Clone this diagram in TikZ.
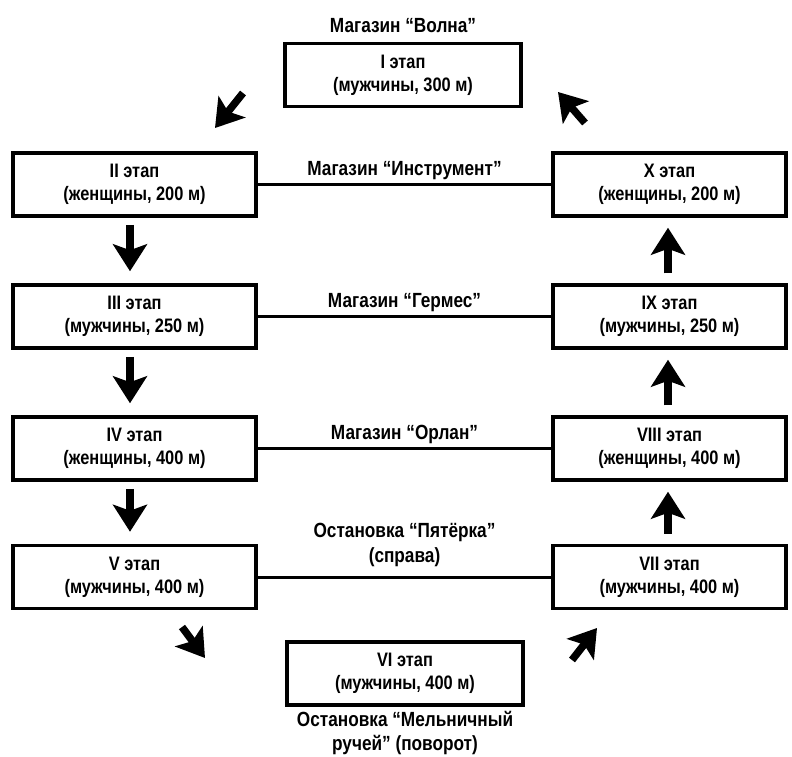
\documentclass[tikz,border=0pt]{standalone}
\usepackage{fontspec}
\setmainfont{Liberation Sans}[FakeStretch=0.84]
\usetikzlibrary{arrows.meta}
\usetikzlibrary{positioning}

\tikzset{
  etap/.style={draw, line width=3.5pt, minimum width=243pt, minimum height=63pt,
    align=center, inner sep=0pt, font=\fontsize{19.5}{23}\selectfont\bfseries},
  lbl/.style={align=center, inner sep=0pt, font=\fontsize{20.5}{24.5}\selectfont\bfseries},
  link/.style={line width=3pt},
  bigarrow/.style={line width=7.5pt, -{Stealth[length=27pt,width=34pt,inset=6pt]}}
}

\begin{document}
\begin{tikzpicture}[x=1pt,y=-1pt]
\useasboundingbox (0,0) rectangle (792,757);
\node[etap, minimum width=236pt] (s1) at (403,75) {I этап\\(мужчины, 300 м)};
\node[etap] (s2) at (134.5,184.5) {II этап\\(женщины, 200 м)};
\node[etap] (s3) at (134.5,316.5) {III этап\\(мужчины, 250 м)};
\node[etap] (s4) at (134.5,448.5) {IV этап\\(женщины, 400 м)};
\node[etap] (s5) at (134.5,577) {V этап\\(мужчины, 400 м)};
\node[etap, minimum width=236pt] (s6) at (405,673.5) {VI этап\\(мужчины, 400 м)};
\node[etap, minimum width=233pt] (s7) at (669.5,577) {VII этап\\(мужчины, 400 м)};
\node[etap, minimum width=233pt] (s8) at (669.5,448.5) {VIII этап\\(женщины, 400 м)};
\node[etap, minimum width=233pt] (s9) at (669.5,316.5) {IX этап\\(мужчины, 250 м)};
\node[etap, minimum width=233pt] (s10) at (669.5,184.5) {X этап\\(женщины, 200 м)};

\node[lbl, above=9pt of s1] (t1) {Магазин “Волна”};
\node[lbl, below=4pt of s6] (t6) {Остановка “Мельничный\\ручей” (поворот)};

\draw[link] (s2) -- (s10) node[lbl, midway, anchor=south, yshift=3pt] (m2) {Магазин “Инструмент”};
\draw[link] (s3) -- (s9) node[lbl, midway, anchor=south, yshift=3pt] (m3) {Магазин “Гермес”};
\draw[link] (s4) -- (s8) node[lbl, midway, anchor=south, yshift=3pt] (m4) {Магазин “Орлан”};
\draw[link] (s5) -- (s7) node[lbl, midway, anchor=south, yshift=9pt] (m5) {Остановка “Пятёрка”\\(справа)};

\draw[bigarrow, shorten <=7pt, shorten >=12pt] ([xshift=-4.5pt]s2.south) -- ([xshift=-4.5pt]s3.north);
\draw[bigarrow, shorten <=7pt, shorten >=12pt] ([xshift=-4.5pt]s3.south) -- ([xshift=-4.5pt]s4.north);
\draw[bigarrow, shorten <=7pt, shorten >=12pt] ([xshift=-4.5pt]s4.south) -- ([xshift=-4.5pt]s5.north);
\draw[bigarrow, shorten <=10pt, shorten >=10pt] ([xshift=-1.5pt]s7.north) -- ([xshift=-1.5pt]s8.south);
\draw[bigarrow, shorten <=10pt, shorten >=10pt] ([xshift=-1.5pt]s8.north) -- ([xshift=-1.5pt]s9.south);
\draw[bigarrow, shorten <=10pt, shorten >=10pt] ([xshift=-1.5pt]s9.north) -- ([xshift=-1.5pt]s10.south);

\draw[bigarrow] (243,93) -- (215,128);
\draw[bigarrow] (585,123) -- (558,92);
\draw[bigarrow] (182,627) -- (205,658);
\draw[bigarrow] (572,660) -- (597,628);
\end{tikzpicture}
\end{document}
